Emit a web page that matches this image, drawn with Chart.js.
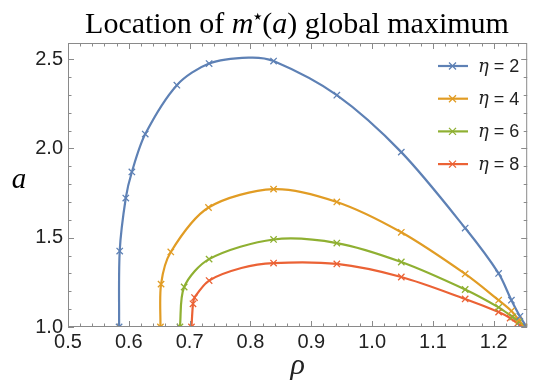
<!DOCTYPE html>
<html lang="en">
<head>
<meta charset="UTF-8">
<title>Location of m*(a) global maximum</title>
<script src="https://cdn.jsdelivr.net/npm/chart.js"></script>
<style>
    body { margin: 0; padding: 0; background: #ffffff; }
    #wrap { width: 533px; height: 385px; }
</style>
</head>
<body>
<div id="wrap"><canvas id="maxChart" width="533" height="385"></canvas></div>
<script>
// eta values of the four curves
const etaValues = [2, 4, 6, 8];
const seriesColors = ['#5E81B5', '#E19C24', '#8FB032', '#EB6235'];

const rhoEta2 = [0.584, 0.585, 0.595, 0.605, 0.627, 0.679, 0.732, 0.838, 0.942, 1.048, 1.153, 1.208, 1.229, 1.243, 1.254];
const aEta2   = [1.000, 1.425, 1.722, 1.868, 2.080, 2.354, 2.475, 2.489, 2.298, 1.979, 1.554, 1.300, 1.150, 1.060, 1.000];
const rhoEta4 = [0.652, 0.653, 0.669, 0.731, 0.838, 0.942, 1.048, 1.153, 1.208, 1.229, 1.241, 1.250];
const aEta4   = [1.000, 1.240, 1.420, 1.669, 1.772, 1.700, 1.530, 1.297, 1.150, 1.090, 1.040, 1.000];
const rhoEta6 = [0.684, 0.691, 0.732, 0.838, 0.942, 1.048, 1.153, 1.208, 1.231, 1.242, 1.252];
const aEta6   = [1.000, 1.224, 1.380, 1.490, 1.470, 1.364, 1.210, 1.110, 1.056, 1.030, 1.000];
const rhoEta8 = [0.703, 0.7055, 0.708, 0.732, 0.838, 0.942, 1.048, 1.153, 1.208, 1.227, 1.239, 1.250];
const aEta8   = [1.000, 1.130, 1.165, 1.260, 1.358, 1.353, 1.280, 1.157, 1.084, 1.050, 1.020, 1.000];

// extra points along each curve (no marker)
const bendRho = [[0.797], [], [], [0.785]];
const bendA   = [[2.508], [], [], [1.330]];

const markRho = [rhoEta2, rhoEta4, rhoEta6, rhoEta8];
const markA   = [aEta2, aEta4, aEta6, aEta8];

// axis ticks
const xTickStep = 0.1, xMinorStep = 0.02;
const yTickStep = 0.5, yMinorStep = 0.1;

function toPoints(xs, ys) {
    return xs.map((x, i) => ({ x: x, y: ys[i] }));
}

const datasets = [];
etaValues.forEach((eta, k) => {
    const marks = toPoints(markRho[k], markA[k]);
    const curve = marks.concat(toPoints(bendRho[k], bendA[k])).sort((p, q) => p.x - q.x);
    datasets.push({
        label: 'eta ' + eta,
        data: curve,
        showLine: true,
        borderColor: seriesColors[k],
        borderWidth: 2.2,
        pointRadius: 0,
        tension: 0.3,
        clip: 0,
        order: 2
    });
    datasets.push({
        label: 'eta ' + eta + ' marks',
        data: marks,
        showLine: false,
        pointStyle: 'crossRot',
        pointRadius: 4.5,
        borderWidth: 1.3,
        borderColor: seriesColors[k],
        backgroundColor: seriesColors[k],
        clip: 0,
        order: 1
    });
});

// draws a list of text pieces with different fonts on one line
function drawRuns(ctx, runs, x, y, align) {
    let total = 0;
    runs.forEach(r => { ctx.font = r.font; r.w = ctx.measureText(r.text).width; total += r.w; });
    let cx = align === 'center' ? x - total / 2 : x;
    ctx.textAlign = 'left';
    runs.forEach(r => {
        ctx.font = r.font;
        ctx.fillText(r.text, cx, y + (r.dy || 0));
        cx += r.w;
    });
}

const decorPlugin = {
    id: 'decor',
    afterDatasetsDraw(chart) {
        const ctx = chart.ctx;
        const area = chart.chartArea;
        const xs = chart.scales.x, ys = chart.scales.y;
        ctx.save();

        // frame and inward ticks on all four sides
        ctx.strokeStyle = '#8a8a8a';
        ctx.lineWidth = 1;
        ctx.strokeRect(area.left + 0.5, area.top + 0.5, area.right - area.left - 1, area.bottom - area.top - 1);
        ctx.beginPath();
        for (let v = xs.min; v <= xs.max + 1e-9; v += xMinorStep) {
            const major = Math.abs(v / xTickStep - Math.round(v / xTickStep)) < 1e-6;
            const len = major ? 6 : 3.5;
            const px = Math.round(xs.getPixelForValue(v)) + 0.5;
            ctx.moveTo(px, area.bottom); ctx.lineTo(px, area.bottom - len);
            ctx.moveTo(px, area.top); ctx.lineTo(px, area.top + len);
        }
        for (let v = ys.min; v <= ys.max + 1e-9; v += yMinorStep) {
            const major = Math.abs(v / yTickStep - Math.round(v / yTickStep)) < 1e-6;
            const len = major ? 6 : 3.5;
            const py = Math.round(ys.getPixelForValue(v)) + 0.5;
            ctx.moveTo(area.left, py); ctx.lineTo(area.left + len, py);
            ctx.moveTo(area.right, py); ctx.lineTo(area.right - len, py);
        }
        ctx.stroke();

        // legend inside the plot, top right
        ctx.textBaseline = 'middle';
        etaValues.forEach((eta, k) => {
            const y = 66 + k * 32.7;
            ctx.strokeStyle = seriesColors[k];
            ctx.lineWidth = 2.2;
            ctx.beginPath();
            ctx.moveTo(438, y); ctx.lineTo(468, y);
            ctx.stroke();
            ctx.lineWidth = 1.3;
            ctx.beginPath();
            ctx.moveTo(449, y - 3.5); ctx.lineTo(456, y + 3.5);
            ctx.moveTo(456, y - 3.5); ctx.lineTo(449, y + 3.5);
            ctx.stroke();
            ctx.fillStyle = '#222';
            drawRuns(ctx, [
                { text: '\u03B7', font: 'italic 18px "DejaVu Serif"' },
                { text: ' = ' + eta, font: '18px "Liberation Sans"' }
            ], 478, y + 1, 'left');
        });

        // title
        ctx.textBaseline = 'alphabetic';
        ctx.fillStyle = '#000';
        drawRuns(ctx, [
            { text: 'Location of ', font: '30px "Liberation Serif"' },
            { text: 'm', font: 'italic 30px "Liberation Serif"' },
            { text: '\u2605', font: '10px "DejaVu Sans"', dy: -13 },
            { text: '(', font: '30px "Liberation Serif"' },
            { text: 'a', font: 'italic 30px "Liberation Serif"' },
            { text: ') global maximum', font: '30px "Liberation Serif"' }
        ], 297, 33, 'center');

        // y axis name, upright
        ctx.textBaseline = 'middle';
        ctx.font = 'italic 29px "Liberation Serif"';
        ctx.textAlign = 'center';
        ctx.fillText('a', 19, 180);
        ctx.restore();
    }
};

const ctx = document.getElementById('maxChart').getContext('2d');
new Chart(ctx, {
    type: 'scatter',
    data: { datasets: datasets },
    options: {
        responsive: false,
        animation: false,
        layout: { padding: { top: 43, right: 2, left: 0, bottom: 0 } },
        plugins: {
            legend: { display: false },
            tooltip: { enabled: false }
        },
        scales: {
            x: {
                type: 'linear',
                min: 0.5,
                max: 1.255,
                afterFit: s => { s.height = 58; },
                grid: { display: false, drawTicks: false },
                border: { display: false },
                ticks: {
                    stepSize: xTickStep,
                    includeBounds: false,
                    padding: 3,
                    color: '#222',
                    font: { family: '"Liberation Sans"', size: 20 },
                    callback: v => v.toFixed(1)
                },
                title: {
                    display: true,
                    text: '\u03C1',
                    color: '#222',
                    padding: { top: 0, bottom: 1 },
                    font: { family: '"Liberation Serif"', style: 'italic', size: 30 }
                }
            },
            y: {
                type: 'linear',
                min: 1.0,
                max: 2.59,
                afterFit: s => { s.width = 68; },
                grid: { display: false, drawTicks: false },
                border: { display: false },
                ticks: {
                    stepSize: yTickStep,
                    includeBounds: false,
                    padding: 5,
                    color: '#222',
                    font: { family: '"Liberation Sans"', size: 20 },
                    callback: v => v.toFixed(1)
                }
            }
        }
    },
    plugins: [decorPlugin]
});
</script>
</body>
</html>
